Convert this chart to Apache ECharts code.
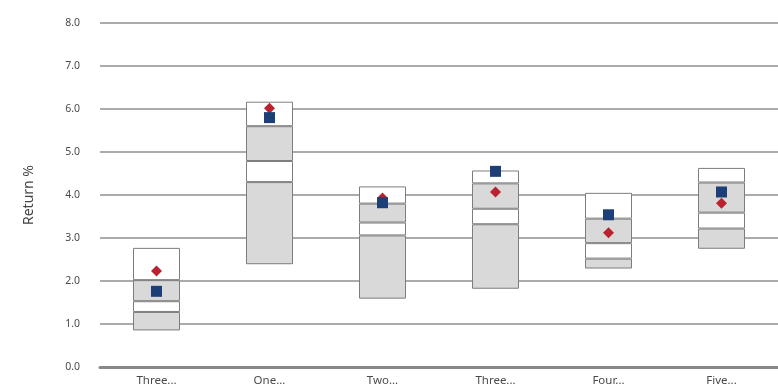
<!DOCTYPE html>
<html>
<head>
<meta charset="utf-8">
<script src="https://cdn.jsdelivr.net/npm/echarts@6/dist/echarts.min.js"></script>
<style>
  html, body { margin: 0; padding: 0; background: #fff; }
  #chart { width: 778px; height: 391px; }
</style>
</head>
<body>
<div id="chart"></div>
<script>
// categories and percentile bands
var categories = ['Three...', 'One...', 'Two...', 'Three...', 'Four...', 'Five...'];
var p5  = [0.85, 2.39, 1.59, 1.82, 2.29, 2.75];
var p25 = [1.28, 4.30, 3.06, 3.32, 2.52, 3.22];
var p50 = [1.53, 4.79, 3.36, 3.68, 2.88, 3.59];
var p75 = [2.02, 5.60, 3.80, 4.27, 3.45, 4.29];
var p95 = [2.77, 6.17, 4.20, 4.57, 4.05, 4.63];
var diamondVals = [2.23, 6.02, 3.93, 4.07, 3.12, 3.81];
var squareVals  = [1.76, 5.80, 3.82, 4.55, 3.54, 4.07];

function diff(a, b) {
    return a.map(function (v, i) { return +(v - b[i]).toFixed(2); });
}

var boxBorder = '#7d7d7d';
function band(name, data, color) {
    return {
        name: name,
        type: 'bar',
        stack: 'box',
        barWidth: 47,
        silent: true,
        itemStyle: { color: color, borderColor: boxBorder, borderWidth: 1 },
        data: data
    };
}

var chart = echarts.init(document.getElementById('chart'));
var option = {
    animation: false,
    textStyle: { fontFamily: 'Noto Sans' },
    grid: { left: 100, top: 23, width: 695, height: 344 },
    xAxis: {
        type: 'category',
        data: categories,
        axisLine: { lineStyle: { color: '#888', width: 3 } },
        axisTick: { length: 3, lineStyle: { color: '#999' } },
        axisLabel: { color: '#4a4a4a', fontSize: 11.5, margin: 8 }
    },
    yAxis: {
        type: 'value',
        min: 0,
        max: 8,
        interval: 1,
        name: 'Return %',
        nameLocation: 'middle',
        nameGap: 64,
        nameTextStyle: { color: '#444', fontSize: 14 },
        axisLine: { show: false },
        axisTick: { show: false },
        axisLabel: {
            color: '#4a4a4a', fontSize: 10.5, margin: 20,
            formatter: function (v) { return v.toFixed(1); }
        },
        splitLine: { lineStyle: { color: '#ababab', width: 2 } }
    },
    series: [
        {
            name: 'base', type: 'bar', stack: 'box', barWidth: 47, silent: true,
            itemStyle: { color: 'transparent' },
            data: p5
        },
        band('5-25', diff(p25, p5), '#d9d9d9'),
        band('25-50', diff(p50, p25), '#ffffff'),
        band('50-75', diff(p75, p50), '#d9d9d9'),
        band('75-95', diff(p95, p75), '#ffffff'),
        {
            name: 'diamond', type: 'scatter', symbol: 'diamond', symbolSize: 11,
            itemStyle: { color: '#bb2230', opacity: 1 },
            data: diamondVals, z: 5
        },
        {
            name: 'square', type: 'scatter', symbol: 'rect', symbolSize: 11,
            itemStyle: { color: '#1c3f78', opacity: 1 },
            data: squareVals, z: 6
        }
    ]
};
chart.setOption(option);
</script>
</body>
</html>
